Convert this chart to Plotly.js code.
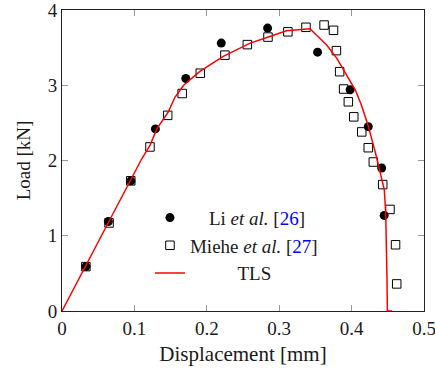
<!DOCTYPE html>
<html>
<head>
<meta charset="utf-8">
<script src="https://cdn.plot.ly/plotly-3.0.1.min.js"></script>
<style>html,body{margin:0;padding:0;background:#fff;}#chart{width:435px;height:369px;}</style>
</head>
<body>
<div id="chart"></div>
<script>
// Li et al. [26]
const liX = [0.033, 0.064, 0.095, 0.129, 0.171, 0.220, 0.284, 0.353, 0.398, 0.423, 0.4415, 0.445];
const liY = [0.59, 1.19, 1.73, 2.42, 3.09, 3.56, 3.76, 3.44, 2.94, 2.45, 1.90, 1.27];
// Miehe et al. [27]
const mieheX = [0.033, 0.065, 0.095, 0.1215, 0.146, 0.166, 0.191, 0.225, 0.256, 0.2845, 0.312, 0.337, 0.362, 0.375, 0.379, 0.3835, 0.389, 0.3955, 0.403, 0.414, 0.423, 0.430, 0.443, 0.453, 0.4607, 0.4623];
const mieheY = [0.59, 1.17, 1.73, 2.18, 2.60, 2.89, 3.16, 3.40, 3.54, 3.64, 3.71, 3.77, 3.80, 3.73, 3.46, 3.18, 2.95, 2.78, 2.58, 2.38, 2.17, 1.98, 1.68, 1.35, 0.88, 0.36];
// TLS
const tlsX = [0, 0.11, 0.1215, 0.131, 0.147, 0.156, 0.168, 0.19, 0.222, 0.26, 0.283, 0.31, 0.3425, 0.347, 0.3656, 0.3794, 0.393, 0.405, 0.413, 0.423, 0.433, 0.439, 0.4452, 0.4471, 0.4485, 0.4489, 0.4494, 0.4494, 0.456];
const tlsY = [0, 2.02, 2.2, 2.42, 2.65, 2.84, 3.0, 3.18, 3.38, 3.56, 3.635, 3.725, 3.75, 3.71, 3.535, 3.36, 3.14, 2.94, 2.75, 2.46, 2.1, 1.87, 1.61, 1.30, 0.855, 0.41, 0.02, 0, 0];

const xTicks = [0, 0.1, 0.2, 0.3, 0.4, 0.5];
const xTickText = ["0", "0.1", "0.2", "0.3", "0.4", "0.5"];
const yTicks = [0, 1, 2, 3, 4];
const yTickText = ["0", "1", "2", "3", "4"];

const names = [
  "\u00a0\u00a0\u00a0\u00a0Li <i>et al.</i> [<span style=\"color:#0000ff\">26</span>]",
  "Miehe <i>et al.</i> [<span style=\"color:#0000ff\">27</span>]",
  "\u00a0\u00a0\u00a0\u00a0\u00a0\u00a0\u00a0\u00a0\u00a0\u00a0TLS"
];

const FONT = "Liberation Serif, Times New Roman, serif";
const TXT = "#1a1a1a";

const traces = [
  {x: mieheX, y: mieheY, type: "scatter", mode: "markers", name: names[1], legendrank: 2,
   marker: {symbol: "square-open", size: 8.5, color: "#000", line: {width: 1, color: "#000"}}},
  {x: liX, y: liY, type: "scatter", mode: "markers", name: names[0], legendrank: 1,
   marker: {symbol: "circle", size: 9, color: "#000"}},
  {x: tlsX, y: tlsY, type: "scatter", mode: "lines", name: names[2], legendrank: 3,
   line: {color: "#ff0000", width: 1.5}}
];

const axisCommon = {
  showgrid: false, zeroline: false, showline: true, linecolor: "#222", linewidth: 1,
  mirror: "ticks", ticks: "inside", ticklen: 6, tickcolor: "#999", tickwidth: 1,
  ticklabeloverflow: "allow",
  tickfont: {family: FONT, size: 19, color: TXT}
};

const layout = {
  width: 435, height: 369,
  margin: {l: 62, r: 11, t: 10, b: 58},
  paper_bgcolor: "#fff", plot_bgcolor: "#fff",
  font: {family: FONT, size: 19, color: TXT},
  showlegend: true,
  legend: {x: 0.243, y: 0.373, xanchor: "left", yanchor: "top", bgcolor: "rgba(0,0,0,0)",
           borderwidth: 0, font: {family: FONT, size: 19, color: TXT}, traceorder: "normal"},
  xaxis: Object.assign({}, axisCommon, {range: [0, 0.5], tickvals: xTicks, ticktext: xTickText,
    title: {text: "Displacement [mm]", font: {family: FONT, size: 21, color: TXT}, standoff: 8}}),
  yaxis: Object.assign({}, axisCommon, {range: [0, 4], tickvals: yTicks, ticktext: yTickText,
    title: {text: "Load [kN]", font: {family: FONT, size: 19, color: TXT}, standoff: 12}})
};

Plotly.newPlot("chart", traces, layout, {displayModeBar: false, staticPlot: true});
</script>
</body>
</html>
